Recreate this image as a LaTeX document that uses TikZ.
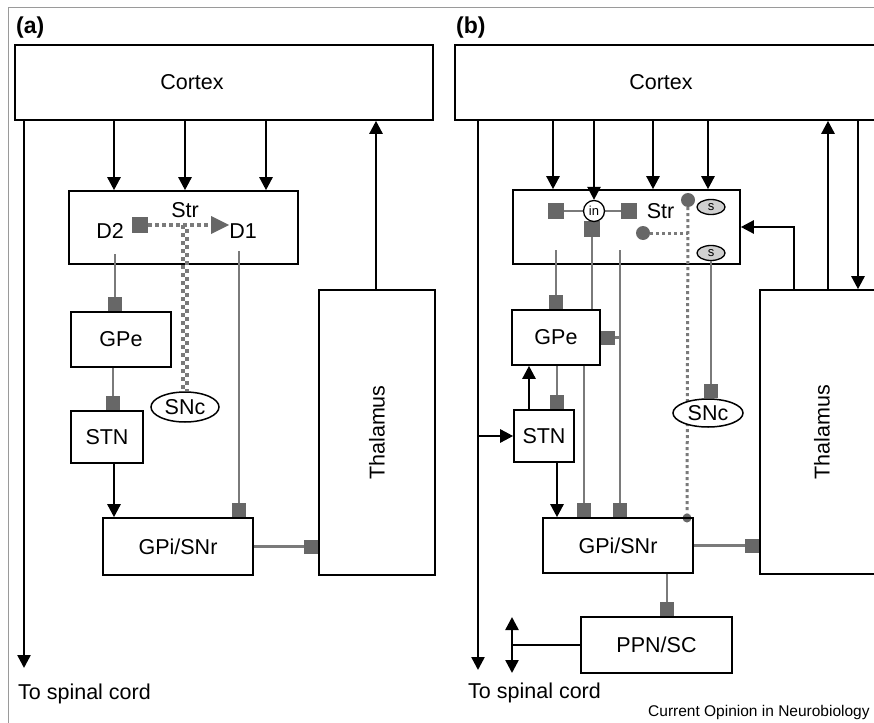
\documentclass[tikz,border=0pt]{standalone}
\usepackage{fontspec}
\setmainfont{Liberation Sans}
\usetikzlibrary{arrows.meta,calc,shapes.geometric}
\definecolor{lgray}{HTML}{7A7A7A}
\definecolor{sqgray}{HTML}{676767}
\definecolor{framegray}{HTML}{9A9A9A}
\definecolor{sfill}{HTML}{D0D0D0}
\begin{document}
\begin{tikzpicture}[x=1pt,y=-1pt,
  box/.style={draw, line width=1.6pt, inner sep=0pt, font=\fontsize{21.5}{24}\selectfont},
  lab/.style={font=\fontsize{21.5}{24}\selectfont, inner sep=0pt},
  ex/.style={line width=2.5pt, -{Triangle[length=13pt,width=13pt]}},
  inh/.style={draw=lgray, line width=2.3pt, -{Square[length=14pt,width=14pt,fill=sqgray,color=sqgray]}},
  gl/.style={draw=lgray, line width=2.3pt},
  dotl/.style={draw=lgray, line width=3pt, dash pattern=on 3pt off 3pt},
  sqn/.style={fill=sqgray, minimum size=16pt, inner sep=0pt},
  gdot/.style={circle, fill=sqgray, inner sep=0pt},
  snc/.style={ellipse, draw, line width=1.5pt, fill=white, inner sep=0pt, font=\fontsize{21.5}{24}\selectfont},
  syn/.style={ellipse, draw, line width=1.3pt, fill=sfill, minimum width=28pt, minimum height=15pt, inner sep=0pt, font=\fontsize{13}{14}\selectfont},
]
\useasboundingbox (0,0) rectangle (874,722);
\clip (0,0) rectangle (874,722);
\draw[framegray, line width=1pt] (8,740) -- (8,8) -- (890,8);

% ---------------- panel (a)
\node[font=\bfseries\fontsize{23}{26}\selectfont, anchor=west, inner sep=0pt] (labA) at (16,28) {(a)};
\node[box, minimum width=418pt, minimum height=75pt, label={[lab,xshift=-32pt]center:Cortex}] (cxA) at (224,82.5) {};
\node[box, minimum width=229pt, minimum height=73pt] (strA) at (183.5,227.5) {};
\node[lab] (strAl) at (185,210) {Str};
\node[lab] (d2) at (110,231) {D2};
\node[lab] (d1) at (243,231) {D1};
\node[sqn] (sqA) at (140,225) {};
\node[box, minimum width=100pt, minimum height=55pt] (gpeA) at (121,339.5) {GPe};
\node[box, minimum width=72pt, minimum height=52pt] (stnA) at (107,437) {STN};
\node[box, minimum width=150pt, minimum height=57pt] (gpiA) at (178,546.5) {GPi/SNr};
\node[box, minimum width=116pt, minimum height=285pt] (thA) at (377,432.5) {\rotatebox{90}{Thalamus}};
\node[snc, minimum width=68pt, minimum height=30pt] (sncA) at (185,407) {SNc};

\coordinate (spA) at (24,668);
\draw[ex] (cxA.south -| spA) -- (spA);
\node[lab, anchor=base west] (tscA) at (18,699) {To spinal cord};
\foreach \x in {114,185,266} \draw[ex] (cxA.south -| \x,0) -- (strA.north -| \x,0);
\draw[ex] (thA.north -| 376,0) -- (cxA.south -| 376,0);

\coordinate (d2o) at (115,254);
\draw[inh] (d2o) -- (gpeA.north -| d2o);
\draw[inh] (gpeA.south -| 113,0) -- (stnA.north -| 113,0);
\draw[ex] (stnA.south -| 114,0) -- (gpiA.north -| 114,0);
\coordinate (d1o) at (239,251);
\draw[inh] (d1o) -- (gpiA.north -| d1o);
\draw[inh] (gpiA.east) -- (thA.west |- gpiA.east);

\coordinate (chk) at (185,225);
\draw[lgray, line width=4pt, dash pattern=on 4pt off 4pt] ([xshift=-2pt]chk) -- ([xshift=-2pt]sncA.north);
\draw[lgray, line width=4pt, dash pattern=on 4pt off 4pt, dash phase=4pt] ([xshift=2pt]chk) -- ([xshift=2pt]sncA.north);
\draw[draw=lgray, line width=4pt, dash pattern=on 4pt off 3pt, -{Triangle[length=18pt,width=18pt,fill=sqgray,color=sqgray,line width=0pt]}] (sqA.east) -- (d1.west |- sqA.east);

% ---------------- panel (b)
\node[font=\bfseries\fontsize{23}{26}\selectfont, anchor=west, inner sep=0pt] (labB) at (456,28) {(b)};
\node[box, minimum width=445pt, minimum height=75pt, label={[lab,xshift=-16.5pt]center:Cortex}] (cxB) at (677.5,82.5) {};
\node[box, minimum width=227pt, minimum height=74pt] (strB) at (626.5,227) {};
\node[lab] (strBl) at (660.5,211) {Str};
\node[sqn] (sqL) at (556,211) {};
\node[sqn] (sqR) at (629,211) {};
\node[sqn] (sqD) at (592,229) {};
\draw[gl] (sqL) -- (594,211) -- (sqR);
\node[circle, draw, line width=1.3pt, fill=white, minimum size=21pt, inner sep=0pt, font=\fontsize{13}{14}\selectfont] (inB) at (594,211) {in};
\node[syn] (sB1) at (711,207) {s};
\node[syn] (sB2) at (711,253) {s};
\node[gdot, minimum size=14pt] (dotB1) at (688,200) {};
\node[gdot, minimum size=14pt] (dotB2) at (643,233) {};
\node[gdot, minimum size=9pt] (dotB3) at (687,518) {};

\node[box, minimum width=88pt, minimum height=55pt] (gpeB) at (556,337.5) {GPe};
\node[box, minimum width=60pt, minimum height=52pt] (stnB) at (544,436) {STN};
\node[box, minimum width=150pt, minimum height=55pt] (gpiB) at (618,545.5) {GPi/SNr};
\node[box, minimum width=124pt, minimum height=284pt] (thB) at (822,432) {\rotatebox{90}{Thalamus}};
\node[box, minimum width=151pt, minimum height=56pt] (ppnB) at (656.5,645) {PPN/SC};

\draw[dotl] (dotB1) -- (dotB3);
\draw[dotl] (dotB2) -- (dotB2 -| dotB1);
\node[snc, minimum width=70pt, minimum height=28pt] (sncB) at (708,413) {SNc};

\coordinate (spB) at (478,670);
\draw[ex] (cxB.south -| spB) -- (spB);
\node[lab, anchor=base west] (tscB) at (468,698) {To spinal cord};
\foreach \x in {553,653,708} \draw[ex] (cxB.south -| \x,0) -- (strB.north -| \x,0);
\draw[ex] (cxB.south -| inB) -- (inB.north);
\draw[ex] (thB.north -| 828,0) -- (cxB.south -| 828,0);
\draw[ex] (cxB.south -| 858,0) -- (thB.north -| 858,0);
\draw[ex] (thB.north -| 794,0) |- (strB.east);

\coordinate (stnIn) at (478,436);
\draw[ex] (stnIn) -- (stnB.west);

\coordinate (l1) at (556,250);
\draw[inh] (l1) -- (gpeB.north -| l1);
\draw[gl] (sqD) -- (gpeB.north -| sqD);
\draw[inh] (gpeB.south -| 584,0) -- (gpiB.north -| 584,0);
\coordinate (l3) at (620,250);
\draw[inh] (l3) -- (gpiB.north -| l3);
\draw[inh] (l3 |- gpeB.east) -- (gpeB.east);
\draw[inh] (gpeB.south -| 557,0) -- (stnB.north -| 557,0);
\draw[ex] (stnB.north -| 529,0) -- (gpeB.south -| 529,0);
\draw[ex] (stnB.south -| 557,0) -- (gpiB.north -| 557,0);
\draw[inh] (sB2) -- (sncB.north -| sB2);
\draw[inh] (gpiB.east) -- (thB.west |- gpiB.east);
\draw[inh] (gpiB.south -| 667,0) -- (ppnB.north -| 667,0);

\coordinate (ppnL) at (512,645);
\coordinate (ppnUp) at (512,617);
\coordinate (ppnDn) at (512,673);
\draw[line width=2.5pt] (ppnB.west) -- (ppnL);
\draw[line width=2.5pt, {Triangle[length=13pt,width=13pt]}-{Triangle[length=13pt,width=13pt]}] (ppnUp) -- (ppnDn);

\node[font=\fontsize{15.5}{17}\selectfont, anchor=base west, inner sep=0pt] (cap) at (648,716) {Current Opinion in Neurobiology};
\end{tikzpicture}
\end{document}
